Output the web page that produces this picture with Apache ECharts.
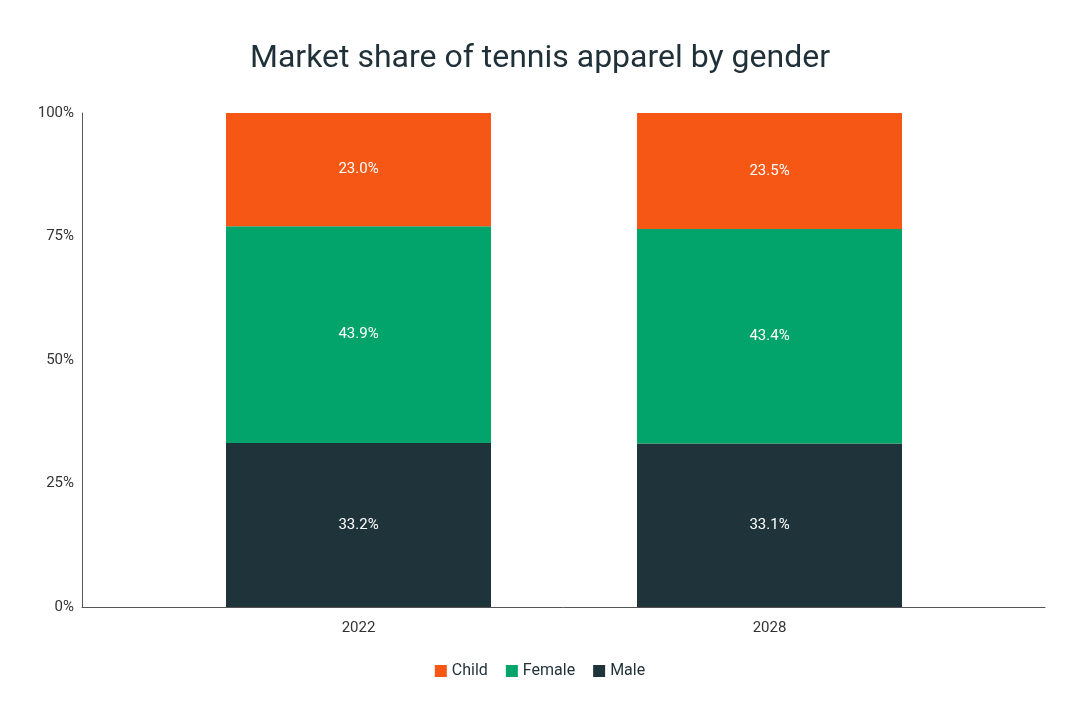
<!DOCTYPE html>
<html>
<head>
<meta charset="UTF-8">
<style>
html, body { margin: 0; padding: 0; background: #fff; }
#chart { width: 1080px; height: 720px; }
</style>
</head>
<body>
<div id="chart"></div>
<script src="https://cdn.jsdelivr.net/npm/echarts@6/dist/echarts.min.js"></script>
<script>
const years = ['2022', '2028'];
const male = [33.2, 33.1];
const female = [43.9, 43.4];
const child = [23.0, 23.5];

const chart = echarts.init(document.getElementById('chart'));
const txt = '#1f3038';

function makeSeries(name, vals, color) {
    return {
        name: name,
        type: 'bar',
        stack: 'all',
        barWidth: 265,
        xAxisIndex: 0,
        yAxisIndex: 0,
        itemStyle: { color: color },
        label: {
            show: true, position: 'inside', color: '#fff', fontSize: 15,
            fontFamily: 'Roboto', formatter: p => p.value.toFixed(1) + '%'
        },
        data: vals
    };
}

chart.setOption({
    textStyle: { fontFamily: 'Roboto' },
    title: {
        text: 'Market share of tennis apparel by gender',
        left: 'center', top: 38,
        textStyle: { fontSize: 32, fontWeight: 'normal', color: txt, fontFamily: 'Roboto' }
    },
    legend: {
        bottom: 36, left: 'center', itemWidth: 12, itemHeight: 12, itemGap: 18,
        icon: 'rect',
        textStyle: { fontSize: 16, color: txt },
        data: ['Child', 'Female', 'Male']
    },
    grid: [
        { left: 153, right: 105, top: 113, bottom: 113 },
        { left: 82, right: 35, top: 113, bottom: 113 }
    ],
    xAxis: [
        {
            type: 'category', data: years, gridIndex: 0,
            axisTick: { show: false },
            axisLine: { show: false },
            axisLabel: { fontSize: 15, color: '#333', margin: 14 }
        },
        {
            type: 'value', gridIndex: 1, min: 0, max: 1,
            splitLine: { show: false }, axisTick: { show: false },
            axisLabel: { show: false },
            axisLine: { show: true, lineStyle: { color: '#555' } }
        }
    ],
    yAxis: [
        {
            type: 'value', gridIndex: 0, min: 0, max: 100, interval: 25,
            show: false
        },
        {
            type: 'value', gridIndex: 1, min: 0, max: 100, interval: 25,
            splitLine: { show: false },
            axisLine: { show: true, lineStyle: { color: '#555' } },
            axisTick: { show: false },
            axisLabel: { fontSize: 15, color: '#333', formatter: v => v + '%' }
        }
    ],
    series: [
        makeSeries('Male', male, '#1e343a'),
        makeSeries('Female', female, '#02a46b'),
        makeSeries('Child', child, '#f65714')
    ]
});
</script>
</body>
</html>
